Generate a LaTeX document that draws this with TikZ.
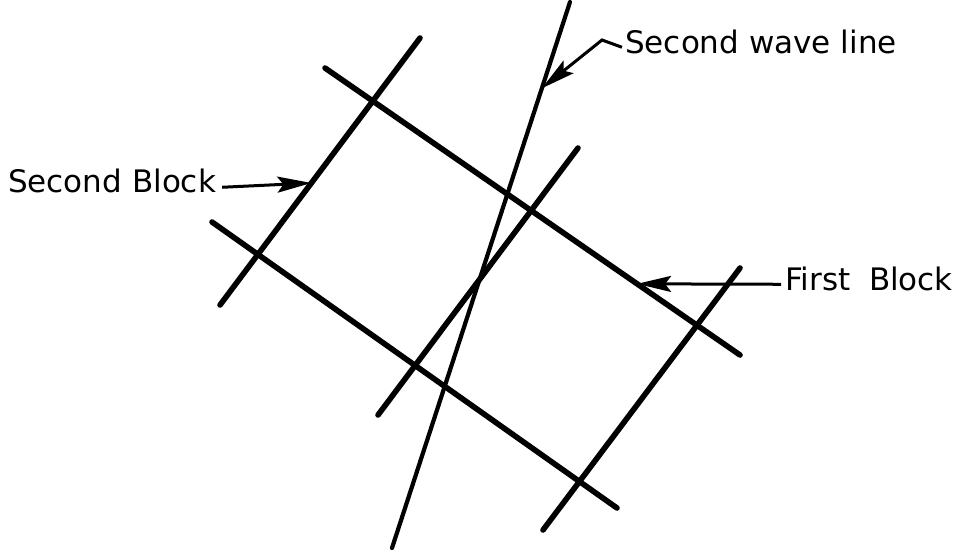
\documentclass[tikz,border=0pt]{standalone}
\usepackage{fontspec}
\setmainfont{DejaVu Sans}
\usetikzlibrary{arrows.meta,calc}
\begin{document}
\begin{tikzpicture}[x=1pt,y=-1pt,
  block/.style={line width=5.6pt,line cap=round},
  wave/.style={line width=4.2pt,line cap=round},
  leader/.style={line width=3pt,-{Stealth[length=34pt,width=16pt,inset=6pt]}},
  lbl/.style={font=\fontsize{31}{34}\selectfont,inner sep=0pt,anchor=base west}]
\useasboundingbox (0,0) rectangle (965,558);
% endpoints
\coordinate (A1) at (420,38);  \coordinate (A2) at (220,305);
\coordinate (B1) at (325,68);  \coordinate (B2) at (740,355);
\coordinate (C1) at (212,222); \coordinate (C2) at (617,508);
\coordinate (D1) at (578,148); \coordinate (D2) at (378,415);
\coordinate (E1) at (740,268); \coordinate (E2) at (543,530);
\coordinate (W1) at (570,2);   \coordinate (W2) at (392,548);
\draw[block] (A1) -- (A2);
\draw[block] (B1) -- (B2);
\draw[block] (C1) -- (C2);
\draw[block] (D1) -- (D2);
\draw[block] (E1) -- (E2);
\draw[wave] (W1) -- (W2);
% labels
\node[lbl] (swl) at (625,53) {Second wave line};
\node[lbl] (sb) at (8,192) {Second Block};
\node[lbl] (fb) at (785,290) {\spaceskip=0.6em First Block};
% leader tips
\coordinate (swlTip) at ($(W1)!0.158!(W2)$);
\coordinate (sbTip) at ($(A1)!0.543!(A2)$);
\coordinate (fbTip) at ($(B1)!0.752!(B2)$);
\coordinate (swlBend) at (602,40);
\draw[leader] ([shift={(-3,-3)}]swl.mid west) -- (swlBend) -- (swlTip);
\draw[leader] ([shift={(6,-2)}]sb.mid east) -- (sbTip);
\draw[leader] ([shift={(-4,-3)}]fb.mid west) -- (fbTip);
\end{tikzpicture}
\end{document}
